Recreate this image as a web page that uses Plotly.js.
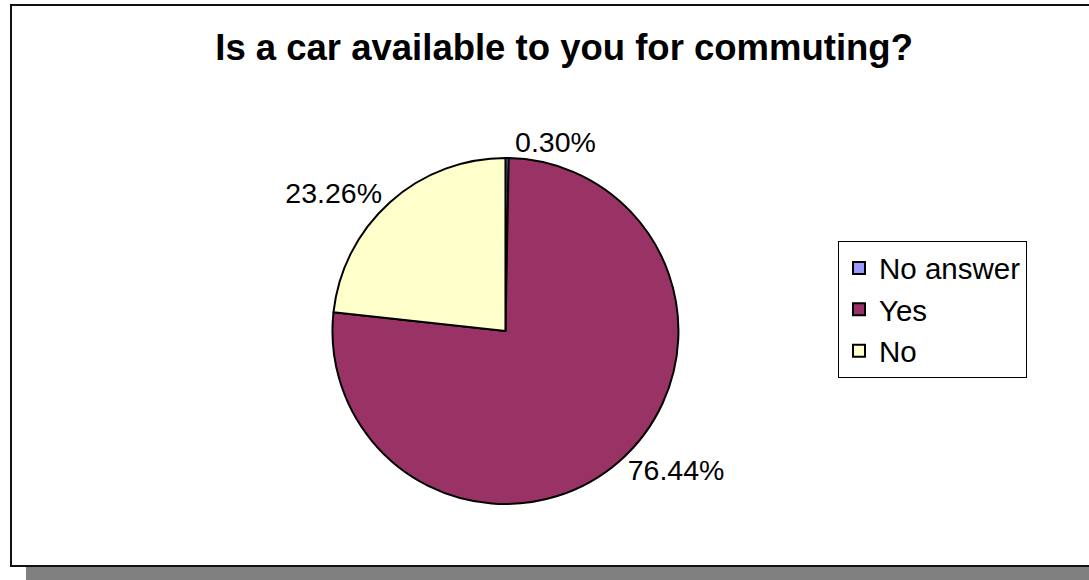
<!DOCTYPE html>
<html>
<head>
<meta charset="utf-8">
<script src="https://cdn.plot.ly/plotly-3.0.1.min.js"></script>
<style>
  html, body { margin: 0; padding: 0; background: #ffffff; overflow: hidden; }
  #shadow { position: absolute; left: 26px; top: 20px; width: 1100px; height: 560px; background: #808080; z-index: 0; }
  #frame { position: absolute; left: 10px; top: 4px; width: 1100px; height: 563px; background: #ffffff; border: 2px solid #111111; box-sizing: border-box; z-index: 1; }
  #chart { position: absolute; left: 0; top: 0; width: 1089px; height: 580px; z-index: 2; }
</style>
</head>
<body>
<div id="shadow"></div>
<div id="frame"></div>
<div id="chart"></div>
<script>
const categories = ["No answer", "Yes", "No"];
const percentages = [0.30, 76.44, 23.26];
const sliceColors = ["#9999FF", "#993366", "#FFFFCC"];

const trace = {
  type: "pie",
  labels: categories,
  values: percentages,
  sort: false,
  direction: "clockwise",
  rotation: 0,
  texttemplate: "%{value:.2f}%",
  textposition: "outside",
  textfont: { family: "Liberation Sans, Arial, sans-serif", size: 28.5, color: "#000000" },
  outsidetextfont: { family: "Liberation Sans, Arial, sans-serif", size: 28.5, color: "#000000" },
  marker: { colors: sliceColors, line: { color: "#000000", width: 2 } },
  hoverinfo: "label+percent",
  domain: { x: [0.3053, 0.6230], y: [0.1310, 0.7276] }
};

const layout = {
  width: 1089,
  height: 580,
  margin: { l: 0, r: 0, t: 0, b: 0 },
  paper_bgcolor: "rgba(0,0,0,0)",
  plot_bgcolor: "rgba(0,0,0,0)",
  title: {
    text: "<b>Is a car available to you for commuting?</b>",
    font: { family: "Liberation Sans, Arial, sans-serif", size: 36.5, color: "#000000" },
    x: 0.518, xanchor: "center",
    y: 0.918, yanchor: "middle",
    xref: "paper", yref: "container"
  },
  showlegend: true,
  legend: {
    x: 0.7695, xanchor: "left",
    y: 0.584, yanchor: "top",
    bordercolor: "#000000", borderwidth: 1,
    bgcolor: "#ffffff",
    font: { family: "Liberation Sans, Arial, sans-serif", size: 29.5, color: "#000000" },
    traceorder: "normal"
  }
};

Plotly.newPlot("chart", [trace], layout, { displayModeBar: false, staticPlot: true });
</script>
</body>
</html>
